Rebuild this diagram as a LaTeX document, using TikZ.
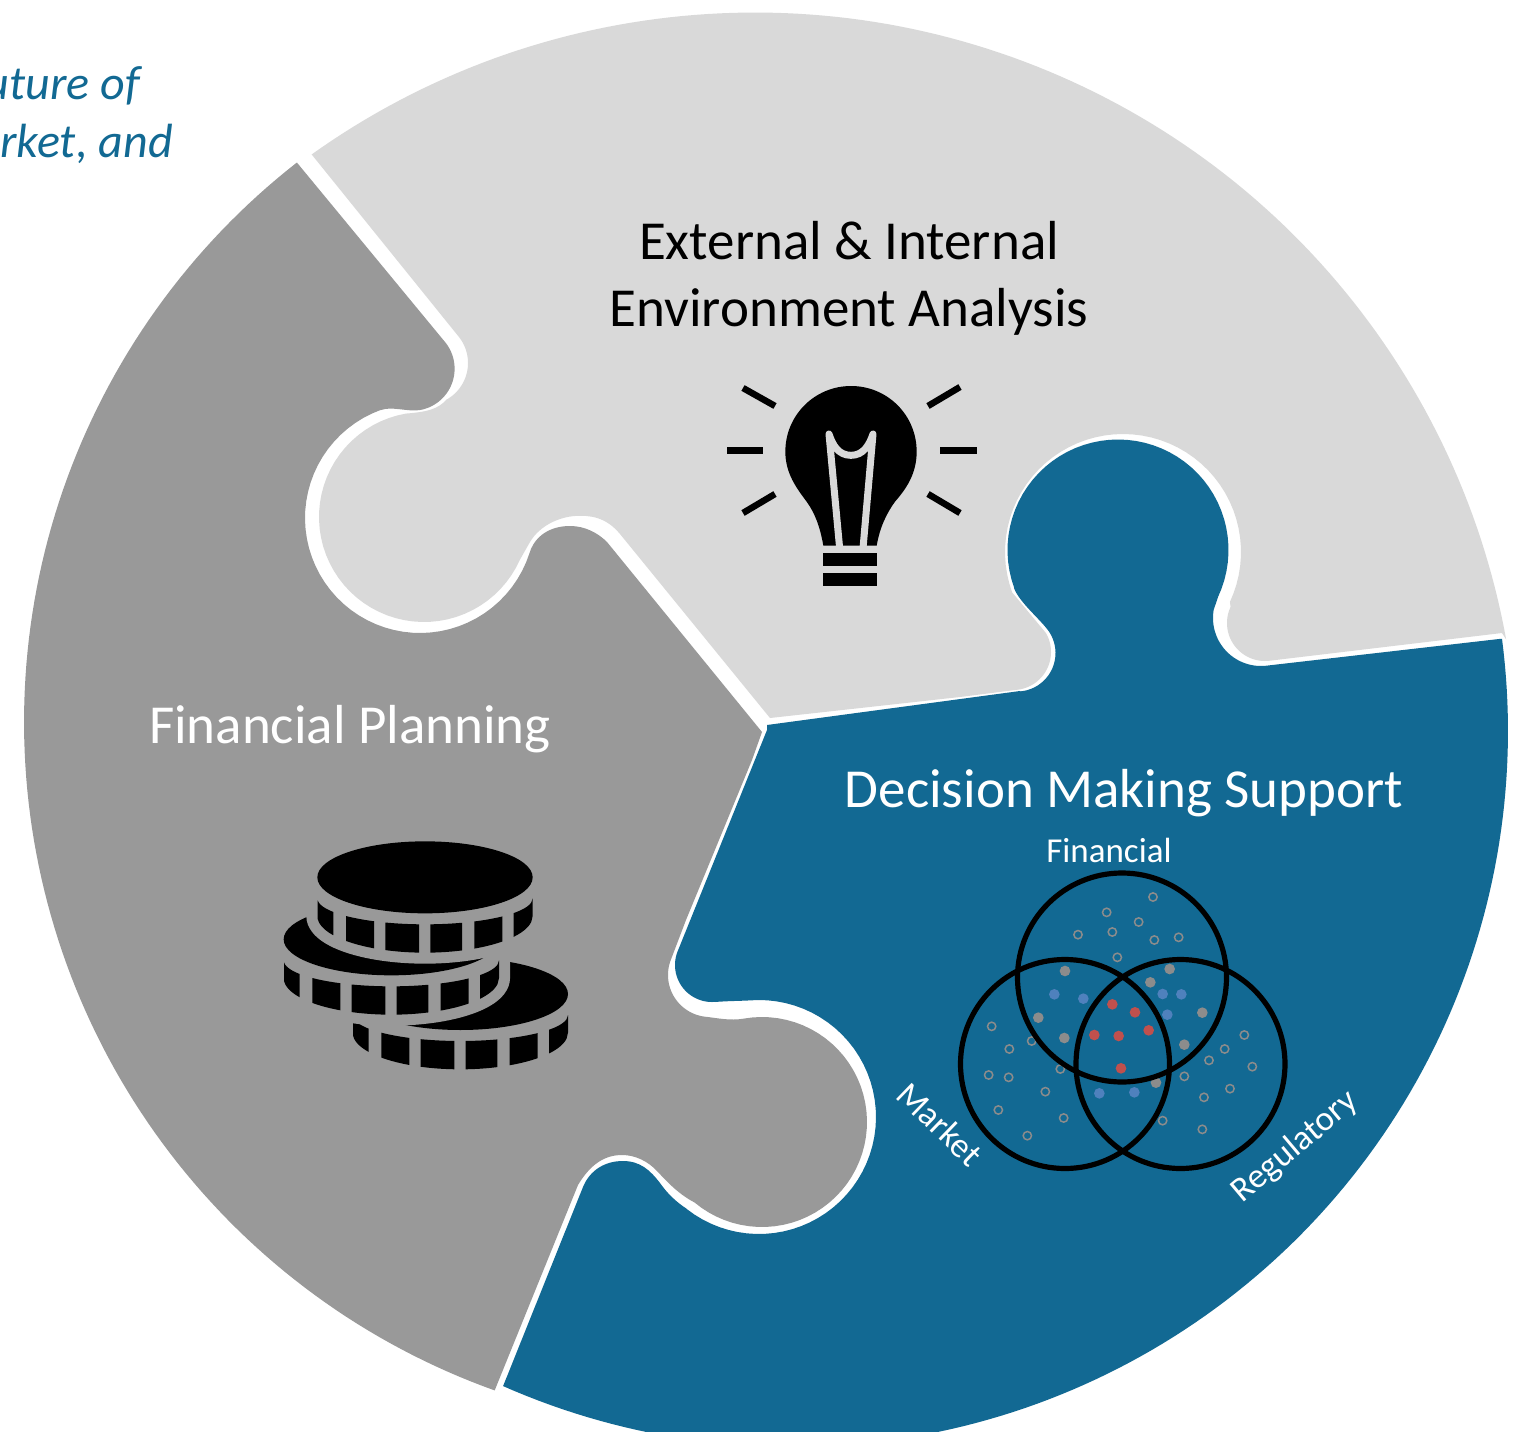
\documentclass[tikz,border=0pt]{standalone}
\usepackage{fontspec}
\setmainfont{Carlito}
\definecolor{pblue}{HTML}{126993}
\definecolor{pdark}{HTML}{999999}
\definecolor{plight}{HTML}{D9D9D9}
\definecolor{dotgrey}{HTML}{8C8C8C}
\definecolor{dotblue}{HTML}{4F81BD}
\definecolor{dotred}{HTML}{C0504D}
\tikzset{
  piecetxt/.style={inner sep=0,anchor=base,font=\fontsize{55}{66}\selectfont},
  smalltxt/.style={inner sep=0,white,font=\fontsize{35}{42}\selectfont},
  topnote/.style={inner sep=0,anchor=base east,text=pblue,font=\fontsize{48}{58}\selectfont\itshape},
  ray/.style={line width=7pt,black},
  venn/.style={draw=black,line width=5.2pt},
  opendot/.style={draw=dotgrey,line width=1.5pt},
}
\newcommand{\rim}[5]{-- plot[domain=#4:#5,samples=50] ({#1+#3*cos(\x)},{#2+#3*sin(\x)})}
\newcommand{\coinshape}[3]{%
 \begin{scope}[shift={(#1,#2)}]
  \fill[#3,draw=#3,line width=22pt] plot[domain=180:360,samples=50] ({465+323*cos(\x)},{142+108*sin(\x)})
     -- (788,258) -- plot[domain=0:180,samples=50] ({465+323*cos(\x)},{258+110*sin(\x)}) -- cycle;
  \fill[black] (465,142) ellipse [x radius=323,y radius=108];
  \foreach \a/\b in {143/190,228/312,346/447,481/576,613/697,731/788}{
   \fill[black] plot[domain=\a:\b,samples=14] (\x,{205+78*sqrt(max(0,1-((\x-465)/323)^2))})
     -- plot[domain=\b:\a,samples=14] (\x,{258+110*sqrt(max(0,1-((\x-465)/323)^2))}) -- cycle;
  }
 \end{scope}}
\begin{document}
\begin{tikzpicture}[x=1pt,y=-1pt]
\path[use as bounding box,clip] (0,0) rectangle (1519,1432);
\fill[white] (0,0) rectangle (1519,1432);

% light piece
\fill[plight] plot[domain=234.5:349.7,samples=120] ({755+763.5*cos(\x)},{776+763.5*sin(\x)})
 -- (1502,633)
 \rim{1265}{623}{38}{83}{205}
 \rim{1123}{552}{118}{25}{-200}
 \rim{1013}{652}{38}{-30}{85}
 -- (960,697) -- (770,718) -- (620,534)
 .. controls (606,517) and (590,515) .. (575,516)
 .. controls (560,517) and (540,525) .. (530,542)
 \rim{424}{517}{105}{24}{260}
 .. controls (425,412) and (438,410) .. (447,399)
 \rim{426}{363}{42}{60}{-38}
 -- cycle;

% dark piece
\fill[pdark] plot[domain=109.7:232,samples=120] ({734+710*cos(\x)},{722+710*sin(\x)})
 -- (445,342)
 \rim{412.6}{368.7}{42}{-39.5}{80}
 .. controls (408,412) and (392,406) .. (381,410)
 \rim{420}{518}{115}{250}{18}
 .. controls (533,540) and (546,526) .. (570,526)
 .. controls (585,526) and (598,533) .. (607,542)
 -- (762,732) -- (752,760) -- (686,920)
 \rim{710}{975}{42}{202}{95}
 .. controls (717,1018) and (730,1021) .. (744,1018.6)
 \rim{762}{1122}{105}{260}{490}
 .. controls (680,1195) and (668,1183) .. (658,1172)
 .. controls (648,1161) and (635,1155) .. (622,1155)
 .. controls (604,1155) and (590,1165) .. (578,1185)
 -- cycle;

% blue piece
\fill[pblue] plot[domain=-7.4:113.8,samples=120] ({792+716*cos(\x)},{731+716*sin(\x)})
 -- (583,1187)
 .. controls (590,1170) and (605,1161) .. (623,1161)
 .. controls (640,1161) and (650,1170) .. (660,1183)
 .. controls (667,1193) and (676,1202) .. (687,1209)
 \rim{759}{1117}{117}{128}{-95}
 .. controls (738,1001) and (727,1001) .. (715,1002)
 \rim{712}{965}{37}{85}{200}
 -- (767,730) -- (767,725) -- (1020,691)
 \rim{1017}{653}{38.5}{85}{-35}
 .. controls (1040,619) and (1019,602) .. (1014,588)
 \rim{1118}{550}{110.5}{160}{385}
 \rim{1261}{618}{48}{190}{85}
 -- (1499,639) -- cycle;

% texts
\node[piecetxt,black] (ext1) at (849,259) {External \& Internal};
\node[piecetxt,black] (ext2) at (849,326) {Environment Analysis};
\node[piecetxt,white] (fin) at (350,743) {Financial Planning};
\node[piecetxt,white] (dec) at (1124,807) {Decision Making Support};
\node[topnote] (n1) at (140,99) {uture of};
\node[topnote] (n2) at (173,157) {rket, and};
\node[topnote] (n3) at (5,206) {,};

% bulb
\draw[ray] (727,450) -- (763,450);
\draw[ray] (940,450) -- (977,450);
\draw[ray,line width=6.5pt] (743,388) -- (775,406);
\draw[ray,line width=6.5pt] (743,513) -- (775,494);
\draw[ray,line width=6.5pt] (928,406) -- (960,387);
\draw[ray,line width=6.5pt] (928,494) -- (960,513);
\begin{scope}[shift={(710,370)},x=0.33333pt,y=-0.33333pt]
 \fill[black] (340,527) .. controls (330,470) and (315,430) .. (290,395)
   .. controls (260,355) and (226,310) .. (226,245)
   .. controls (226,135) and (315,48) .. (423,48)
   .. controls (532,48) and (620,135) .. (620,245)
   .. controls (620,310) and (590,355) .. (555,395)
   .. controls (530,430) and (510,470) .. (500,527) -- cycle;
 \draw[plight,line width=7pt,line cap=round,line join=round]
   (389,535) -- (357,192) .. controls (368,225) and (385,256) .. (423,256)
   .. controls (460,256) and (478,225) .. (489,192) -- (459,535);
 \fill[black] (340,550) rectangle (500,588);
 \fill[black] (340,608) rectangle (500,647);
\end{scope}

% coins
\begin{scope}[shift={(270,830)},x=0.33333pt,y=-0.33333pt]
 \coinshape{106}{350}{pdark}
 \coinshape{-101}{186}{pdark}
 \coinshape{0}{0}{pdark}
\end{scope}

% venn
\begin{scope}[shift={(940,820)},x=0.33333pt,y=-0.33333pt]
 \foreach \a/\b in {639/231,500/277,596/306,414/344,517/336,643/360,716/352,532/412,155/619,208/687,275/663,146/765,206/772,361/747,316/815,175/870,371/894,262/947,913/645,854/687,807/721,937/740,733/769,870/806,792/832,668/902,787/928}
   \draw[opendot] (\a,\b) circle (12.5);
 \foreach \a/\b in {375/453,689/447,631/487,295/593,373/654,787/578,733/674,648/788}
   \fill[dotgrey] (\a,\b) circle (16);
 \foreach \a/\b in {343/523,430/536,668/522,724/523,682/584,478/820,583/817}
   \fill[dotblue] (\a,\b) circle (16);
 \foreach \a/\b in {517/553,585/577,463/645,536/648,626/631,543/745}
   \fill[dotred] (\a,\b) circle (16);
\end{scope}
\node[venn,circle,minimum size=209pt,inner sep=0] (vf) at (1122,977.5) {};
\node[venn,circle,minimum size=209pt,inner sep=0] (vm) at (1065,1064) {};
\node[venn,circle,minimum size=209pt,inner sep=0] (vr) at (1180.5,1064) {};
\node[smalltxt,anchor=base] (lf) at (1109,862) {Financial};
\node[smalltxt,rotate=-44] (lm) at (940,1124) {Market};
\node[smalltxt,rotate=40] (lr) at (1295,1147) {Regulatory};
\end{tikzpicture}
\end{document}
